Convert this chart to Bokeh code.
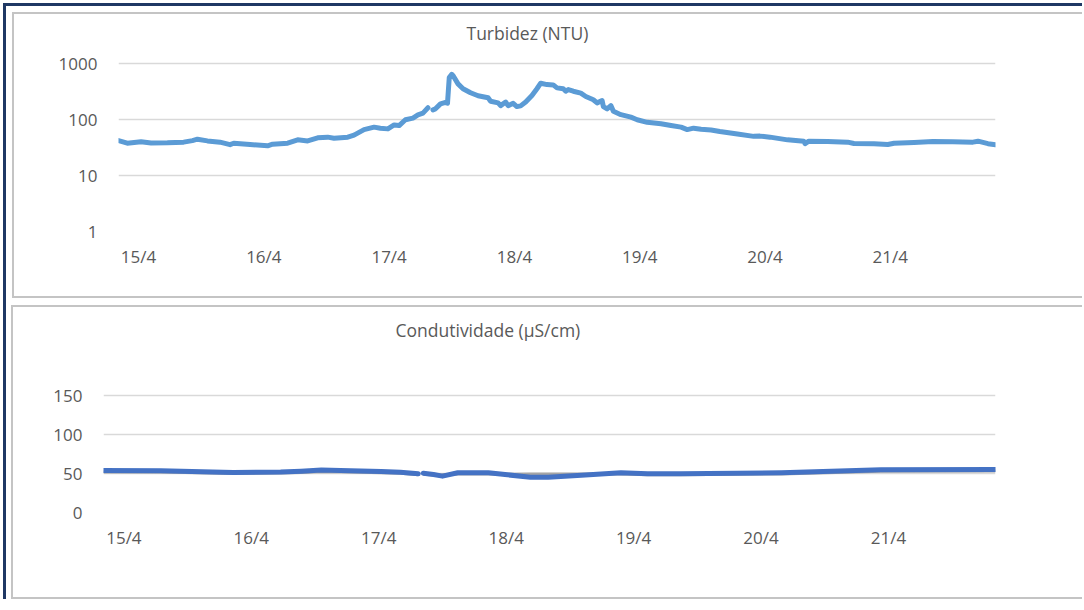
from bokeh.plotting import figure
from bokeh.models import FixedTicker, Label, Column
from bokeh.embed import file_html
from bokeh.resources import INLINE
import numpy as np

# ---- data (x = days since 15/4 00:00) ----
day_ticks = [0, 1, 2, 3, 4, 5, 6]
day_labels = ["15/4", "16/4", "17/4", "18/4", "19/4", "20/4", "21/4"]

turb_day = [-0.16, -0.09, 0.02, 0.10, 0.23, 0.36, 0.43, 0.47, 0.55, 0.65, 0.73, 0.76, 0.89,
            1.03, 1.07, 1.19, 1.27, 1.35, 1.43, 1.51, 1.56, 1.67, 1.72, 1.80, 1.88, 1.93,
            1.99, 2.04, 2.08, 2.13, 2.19, 2.23, 2.27, 2.31, 2.33, 2.35, 2.37, 2.41, 2.45,
            2.466, 2.48, 2.50, 2.51, 2.55, 2.59, 2.65, 2.71, 2.79, 2.81, 2.87, 2.89, 2.93,
            2.95, 2.99, 3.02, 3.05, 3.09, 3.14, 3.18, 3.21, 3.26, 3.31, 3.34, 3.39, 3.41,
            3.43, 3.47, 3.53, 3.57, 3.63, 3.66, 3.70, 3.71, 3.74, 3.77, 3.79, 3.85, 3.93,
            3.98, 4.06, 4.17, 4.25, 4.33, 4.38, 4.43, 4.49, 4.57, 4.64, 4.78, 4.91, 4.96,
            5.04, 5.18, 5.31, 5.32, 5.35, 5.50, 5.66, 5.71, 5.87, 5.98, 6.03, 6.19, 6.34,
            6.50, 6.66, 6.70, 6.78, 6.84]
turb_val = [42, 37.7, 40, 38, 38.4, 39.4, 42, 44.5, 41.5, 39.4, 35.5, 37.7, 35.8,
            33.9, 36.3, 37.7, 43.3, 41.5, 47, 48.4, 46.4, 48.4, 52.6, 66, 73, 70,
            68, 80, 78, 99, 106, 121, 130, 162, np.nan, 149, 155, 190, 202,
            195, 560, 640, 610, 433, 354, 300, 265, 244, 212, 198, 177, 205,
            177, 195, 170, 175, 205, 268, 354, 445, 420, 415, 367, 354, 320,
            343, 320, 295, 257, 225, 198, 218, 170, 155, 177, 140, 122, 110,
            99, 89, 84, 78, 73, 66, 70, 67, 65, 61, 55, 50, 50.5,
            48.4, 43.3, 41, 37, 41, 40.4, 39.4, 37.2, 36.9, 35.8, 37.7, 38.9, 40.4,
            40, 39.4, 41, 37, 35.5]

cond_day = [-0.16, 0.29, 0.86, 1.23, 1.39, 1.55, 1.70, 2.02, 2.17, 2.31, 2.32, 2.35, 2.43,
            2.50, 2.62, 2.86, 3.01, 3.19, 3.33, 3.59, 3.90, 4.11, 4.37, 5.16, 5.94, 6.84]
cond_val = [53.8, 53.5, 51.3, 52, 53, 54.5, 54, 52.6, 51.7, 49.6, np.nan, 50.4, 48.7,
            46.6, 50.9, 50.9, 48.3, 45.3, 45.3, 47.9, 50.9, 49.6, 49.6, 50.9, 54.7, 55.1]
cond2_val = [52.0, 51.8, 50.0, 50.5, 51.2, 52.5, 52.2, 51.0, 50.2, 48.5, np.nan, 49.0, 48.2,
             48.5, 49.5, 49.5, 49.0, 49.2, 49.3, 49.4, 49.5, 48.5, 48.5, 49.5, 53.0, 53.2]

turb_ticks = [1, 10, 100, 1000]
cond_ticks = [0, 50, 100, 150]

FONT = "Open Sans"
TXT = "#595959"
GRID = "#d9d9d9"
PANEL = {"box-shadow": "inset 2px 2px 0 #c4c4c4, inset 0 -2px 0 #c4c4c4"}

# plot areas: the frame is extended upwards (above the last gridline) to host the title
TOP_PLOT_H, TOP_GRID_H = 215, 168      # frame height / height of the 1..1000 decade band
BOT_PLOT_H, BOT_GRID_H = 203, 117      # frame height / height of the 0..150 band
turb_ymax = 1000 ** (TOP_PLOT_H / TOP_GRID_H)
cond_ymax = 150 * BOT_PLOT_H / BOT_GRID_H


def style(p, yticks, xstd):
    p.xaxis.ticker = FixedTicker(ticks=day_ticks)
    p.xaxis.major_label_overrides = {t: l for t, l in zip(day_ticks, day_labels)}
    p.yaxis.ticker = FixedTicker(ticks=yticks)
    p.yaxis.major_label_overrides = {t: str(t) for t in yticks}
    for ax in (p.xaxis, p.yaxis):
        ax.axis_line_color = None
        ax.major_tick_line_color = None
        ax.minor_tick_line_color = None
        ax.major_label_text_font = FONT
        ax.major_label_text_font_size = "17px"
        ax.major_label_text_color = TXT
    p.xaxis.major_label_standoff = xstd
    p.yaxis.major_label_standoff = 15
    p.xgrid.grid_line_color = None
    p.ygrid.grid_line_color = GRID
    p.ygrid.grid_line_width = 1.5
    p.ygrid.ticker = FixedTicker(ticks=yticks)
    p.outline_line_color = None
    p.background_fill_color = "white"
    p.border_fill_color = None
    p.frame_align = False


def title(p, text, dx, dy):
    p.add_layout(Label(x=dx, y=dy, x_units="screen", y_units="screen", text=text,
                       text_font=FONT, text_font_size="17.5px", text_color=TXT,
                       text_align="left", text_baseline="alphabetic"))


p1 = figure(width=1070, height=286, x_range=(-0.16, 6.84), y_range=(1, turb_ymax),
            y_axis_type="log", output_backend="svg", toolbar_location=None,
            min_border_left=106, min_border_right=87, min_border_top=4, min_border_bottom=67,
            margin=(6, 0, 0, 6), styles=PANEL)
style(p1, turb_ticks, 7)
title(p1, "Turbidez (NTU)", 348, 199)
p1.line(turb_day, turb_val, line_color="#5B9BD5", line_width=5, line_join="round", line_cap="round")

p2 = figure(width=1071, height=294, x_range=(-0.16, 6.84), y_range=(0, cond_ymax),
            output_backend="svg", toolbar_location=None,
            min_border_left=92, min_border_right=87, min_border_top=4, min_border_bottom=87,
            margin=(7, 0, 0, 5), styles=PANEL)
style(p2, cond_ticks, 7)
title(p2, "Condutividade (µS/cm)", 292, 183)
p2.line(cond_day, cond2_val, line_color="#A5A5A5", line_width=3)
p2.line(cond_day, cond_val, line_color="#4472C4", line_width=5, line_join="round", line_cap="round")

layout = Column(children=[p1, p2], margin=(3, 0, 0, 3),
                styles={"border-left": "3px solid #1f3864", "border-top": "3px solid #1f3864"})

open("out.html", "w").write(file_html(layout, INLINE))
